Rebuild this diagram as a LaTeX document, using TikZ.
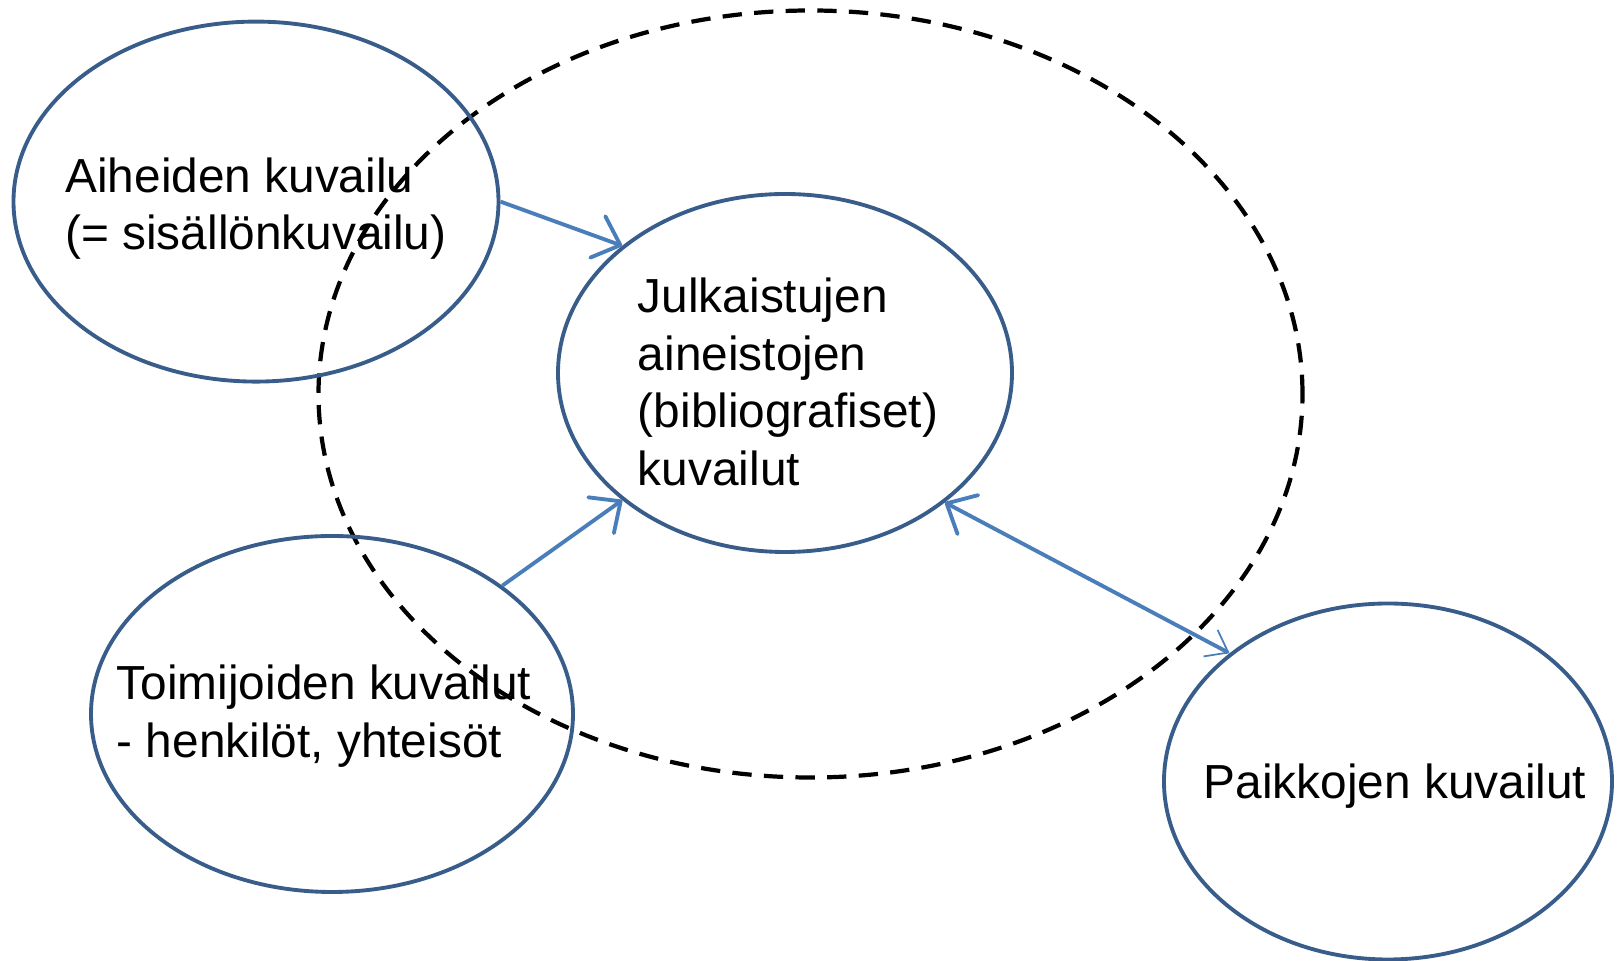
\documentclass[tikz,border=0pt]{standalone}
\usepackage{fontspec}
\setmainfont{Liberation Sans}
\usepackage{tikz}
\usetikzlibrary{shapes.geometric,arrows.meta}

\definecolor{ringblue}{RGB}{56,93,138}
\definecolor{linkblue}{RGB}{74,126,187}

\begin{document}
\begin{tikzpicture}[
  ring/.style={ellipse, draw=ringblue, line width=1.1pt, inner sep=0pt},
  words/.style={align=left, inner sep=0pt, font=\fontsize{13.6pt}{16.4pt}\selectfont},
  link/.style={draw=linkblue, line width=1.1pt, -{Straight Barb[length=2.4mm, width=4.4mm, round]}}
]
\useasboundingbox (0,0) rectangle (16.21,9.61);

% Outer area
\draw[black, line width=1.2pt, dash pattern=on 5.5pt off 3.5pt] (8.105,5.67) ellipse [x radius=4.92, y radius=3.835];

% Centre
\node[ring, minimum width=4.54cm, minimum height=3.58cm,
  label={[words, xshift=0.03cm, yshift=-0.09cm]center:{Julkaistujen\\aineistojen\\(bibliografiset)\\kuvailut}}] (julk) at (7.85,5.88) {};

% Around it
\node[ring, minimum width=4.85cm, minimum height=3.60cm,
  label={[words, yshift=-0.07cm]center:{Aiheiden kuvailu\\(= sisällönkuvailu)}}] (aihe) at (2.56,7.594) {};
\node[ring, minimum width=4.82cm, minimum height=3.56cm,
  label={[words, xshift=-0.08cm, yshift=-0.02cm]center:{Toimijoiden kuvailut\\- henkilöt, yhteisöt}}] (toimi) at (3.32,2.47) {};
\node[ring, minimum width=4.48cm, minimum height=3.56cm,
  label={[words, xshift=0.07cm, yshift=-0.05cm]center:{Paikkojen kuvailut}}] (paikka) at (13.88,1.795) {};

% Links
\draw[link] (aihe.east) -- (julk.142.5);
\draw[link] (toimi.37) -- (julk.218.4);
\draw[link, {Straight Barb[length=2.4mm, width=4.4mm, round]}-{Straight Barb[length=2mm, width=3mm, line width=0.5pt]}] (julk.321.6) -- (paikka.141.6);

\end{tikzpicture}
\end{document}
